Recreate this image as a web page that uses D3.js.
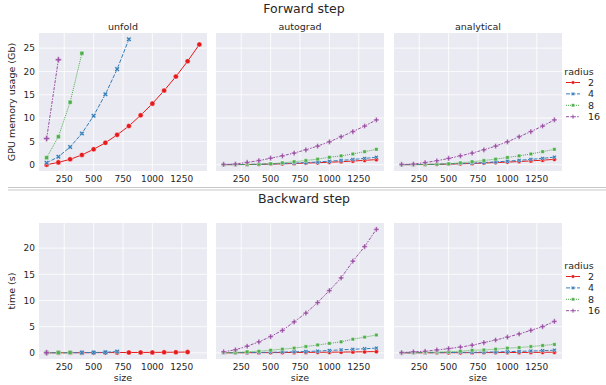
<!DOCTYPE html>
<html>
<head>
<meta charset="utf-8">
<script src="https://cdn.jsdelivr.net/npm/d3@7"></script>
<style>
  body { margin: 0; background: #fff; }
  svg { font-family: "DejaVu Sans", sans-serif; }
</style>
</head>
<body>
<div id="chart"></div>
<script>
const sizes = [100, 200, 300, 400, 500, 600, 700, 800, 900, 1000, 1100, 1200, 1300, 1400];
const radii = ["2", "4", "8", "16"];
const methods = ["unfold", "autograd", "analytical"];
const xTicks = [250, 500, 750, 1000, 1250];
const memTicks = [0, 5, 10, 15, 20, 25];
const timeTicks = [0, 5, 10, 15, 20];

// forward step, GPU memory (Gb), one list per radius (2, 4, 8, 16)
const fwdUnfold = [
  [0.0, 0.5, 1.15, 2.1, 3.3, 4.7, 6.4, 8.3, 10.6, 13.1, 15.9, 18.9, 22.2, 25.8],
  [0.4, 1.7, 3.8, 6.7, 10.5, 15.1, 20.5, 26.9],
  [1.5, 6.0, 13.4, 23.9],
  [5.6, 22.5]
];
const fwdAutograd = [
  [0.01, 0.02, 0.04, 0.08, 0.13, 0.19, 0.26, 0.34, 0.43, 0.53, 0.65, 0.78, 0.93, 1.1],
  [0.01, 0.03, 0.06, 0.1, 0.17, 0.25, 0.34, 0.45, 0.58, 0.75, 0.93, 1.12, 1.35, 1.6],
  [0.0, 0.02, 0.05, 0.1, 0.2, 0.4, 0.65, 0.9, 1.2, 1.6, 1.9, 2.3, 2.8, 3.3],
  [0.07, 0.14, 0.5, 0.86, 1.4, 1.9, 2.5, 3.2, 4.0, 4.9, 6.0, 7.1, 8.3, 9.6]
];
const fwdAnalytical = [
  [0.01, 0.02, 0.04, 0.08, 0.13, 0.19, 0.27, 0.35, 0.45, 0.56, 0.68, 0.82, 0.97, 1.15],
  [0.01, 0.03, 0.06, 0.1, 0.17, 0.25, 0.34, 0.46, 0.6, 0.76, 0.94, 1.14, 1.36, 1.62],
  [0.0, 0.02, 0.05, 0.1, 0.2, 0.4, 0.65, 0.9, 1.2, 1.55, 1.9, 2.3, 2.8, 3.3],
  [0.05, 0.14, 0.45, 0.85, 1.35, 1.9, 2.5, 3.2, 4.0, 4.9, 6.0, 7.1, 8.3, 9.6]
];

// backward step, time (s)
const bwdUnfold = [
  [0.0, 0.01, 0.01, 0.02, 0.03, 0.04, 0.05, 0.06, 0.07, 0.08, 0.1, 0.12, 0.15],
  [0.0, 0.01, 0.02, 0.04, 0.06, 0.1, 0.25],
  [0.0, 0.03, 0.06],
  [0.02]
];
const bwdAutograd = [
  [0.0, 0.01, 0.02, 0.03, 0.04, 0.05, 0.07, 0.08, 0.1, 0.12, 0.14, 0.17, 0.2, 0.24],
  [0.0, 0.02, 0.04, 0.07, 0.1, 0.14, 0.19, 0.25, 0.33, 0.45, 0.57, 0.68, 0.78, 0.9],
  [0.05, 0.06, 0.2, 0.3, 0.5, 0.7, 0.9, 1.2, 1.5, 1.8, 2.1, 2.6, 3.0, 3.4],
  [0.2, 0.57, 1.26, 2.1, 3.1, 4.3, 5.9, 7.6, 9.6, 11.9, 14.3, 17.5, 20.3, 23.6]
];
const bwdAnalytical = [
  [0.0, 0.0, 0.01, 0.01, 0.02, 0.02, 0.03, 0.04, 0.05, 0.06, 0.07, 0.08, 0.1, 0.12],
  [0.0, 0.01, 0.02, 0.03, 0.05, 0.07, 0.1, 0.13, 0.17, 0.22, 0.28, 0.34, 0.42, 0.5],
  [0.0, 0.05, 0.1, 0.15, 0.22, 0.3, 0.5, 0.55, 0.7, 0.9, 1.0, 1.2, 1.4, 1.6],
  [0.05, 0.2, 0.3, 0.55, 0.8, 1.1, 1.45, 1.95, 2.45, 3.0, 3.6, 4.3, 5.0, 6.0]
];

const colors = ["#e41a1c", "#377eb8", "#4daf4a", "#984ea3"];
const dashes = ["", "4,1.5", "1,1", "3,1.25,1.5,1.25"];
const shapes = [d3.symbolCircle, d3.symbolCross, d3.symbolSquare, d3.symbolCross];
const rotate = [0, 45, 0, 0];

const width = 606, height = 385;
const panelX = [[39, 207], [216, 384], [394, 562]];
const textColor = "#262626";

const svg = d3.select("#chart").append("svg")
  .attr("width", width).attr("height", height);

const x = d3.scaleLinear().domain([35, 1465]);

const rows = [
  { title: "Forward step", titleY: 13, top: 33, bottom: 171, domain: [-1.35, 28.25],
    ticks: memTicks, ylabel: "GPU memory usage (Gb)", xlabel: false,
    data: [fwdUnfold, fwdAutograd, fwdAnalytical], legendY: 71 },
  { title: "Backward step", titleY: 203, top: 223, bottom: 359, domain: [-1.18, 24.8],
    ticks: timeTicks, ylabel: "time (s)", xlabel: true,
    data: [bwdUnfold, bwdAutograd, bwdAnalytical], legendY: 265 }
];

// separator between the two figures
[187.5, 190].forEach(yy => {
  svg.append("line").attr("x1", 8).attr("x2", width).attr("y1", yy).attr("y2", yy)
    .attr("stroke", "#c8c8c8").attr("stroke-width", 1);
});

rows.forEach(row => {
  svg.append("text").attr("x", 304).attr("y", row.titleY)
    .attr("text-anchor", "middle").attr("font-size", "12.5px").attr("fill", textColor)
    .text(row.title);

  const y = d3.scaleLinear().domain(row.domain).range([row.bottom, row.top]);

  methods.forEach((m, pi) => {
    const [x0, x1] = panelX[pi];
    const xs = x.copy().range([x0, x1]);
    const g = svg.append("g");

    g.append("rect").attr("x", x0).attr("y", row.top)
      .attr("width", x1 - x0).attr("height", row.bottom - row.top)
      .attr("fill", "#eaeaf2");

    // grid
    g.selectAll(".gx").data(xTicks).enter().append("line")
      .attr("x1", d => xs(d)).attr("x2", d => xs(d))
      .attr("y1", row.top).attr("y2", row.bottom)
      .attr("stroke", "#fff").attr("stroke-width", 0.8);
    g.selectAll(".gy").data(row.ticks).enter().append("line")
      .attr("x1", x0).attr("x2", x1)
      .attr("y1", d => y(d)).attr("y2", d => y(d))
      .attr("stroke", "#fff").attr("stroke-width", 0.8);

    // x tick labels
    g.selectAll(".tx").data(xTicks).enter().append("text")
      .attr("x", d => xs(d)).attr("y", row.bottom + 11)
      .attr("text-anchor", "middle").attr("font-size", "9px").attr("fill", textColor)
      .text(d => d);

    if (pi === 0) {
      g.selectAll(".ty").data(row.ticks).enter().append("text")
        .attr("x", x0 - 4).attr("y", d => y(d) + 3.3)
        .attr("text-anchor", "end").attr("font-size", "9px").attr("fill", textColor)
        .text(d => d);
      g.append("text")
        .attr("transform", `translate(15,${(row.top + row.bottom) / 2}) rotate(-90)`)
        .attr("text-anchor", "middle").attr("font-size", "9.5px").attr("fill", textColor)
        .text(row.ylabel);
    }

    if (row.xlabel) {
      g.append("text").attr("x", (x0 + x1) / 2).attr("y", row.bottom + 22)
        .attr("text-anchor", "middle").attr("font-size", "9.5px").attr("fill", textColor)
        .text("size");
    } else {
      g.append("text").attr("x", (x0 + x1) / 2).attr("y", row.top - 3)
        .attr("text-anchor", "middle").attr("font-size", "9.5px").attr("fill", textColor)
        .text(m);
    }

    const scale = pi === 0 ? 1 : 0.75;
    const series = row.data[pi];
    series.forEach((vals, si) => {
      const pts = vals.map((v, i) => ({ x: sizes[i], y: v }));
      const line = d3.line().x(d => xs(d.x)).y(d => y(d.y));
      g.append("path").datum(pts)
        .attr("fill", "none").attr("stroke", colors[si]).attr("stroke-width", 1)
        .attr("stroke-dasharray", dashes[si] || null)
        .attr("d", line);
      const sym = d3.symbol().type(shapes[si])
        .size((si === 0 ? 20 : si === 3 ? 20 : 16) * scale);
      g.selectAll(null).data(pts).enter().append("path")
        .attr("d", sym)
        .attr("transform", d => `translate(${xs(d.x)},${y(d.y)}) rotate(${rotate[si]})`)
        .attr("fill", colors[si]).attr("stroke", "#fff").attr("stroke-width", 0.4);
    });
  });

  // legend
  const lg = svg.append("g");
  lg.append("text").attr("x", 579).attr("y", row.legendY + 3.5)
    .attr("text-anchor", "middle").attr("font-size", "9.5px").attr("fill", textColor)
    .text("radius");
  radii.forEach((r, i) => {
    const ly = row.legendY + 11.5 + i * 11.4;
    lg.append("line").attr("x1", 566).attr("x2", 580).attr("y1", ly).attr("y2", ly)
      .attr("stroke", colors[i]).attr("stroke-width", 1)
      .attr("stroke-dasharray", dashes[i] || null);
    lg.append("path").attr("d", d3.symbol().type(shapes[i]).size(9))
      .attr("transform", `translate(573,${ly}) rotate(${rotate[i]})`)
      .attr("fill", colors[i]).attr("stroke", "#fff").attr("stroke-width", 0.3);
    lg.append("text").attr("x", 588).attr("y", ly + 3.3)
      .attr("font-size", "9.5px").attr("fill", textColor).text(r);
  });
});
</script>
</body>
</html>
